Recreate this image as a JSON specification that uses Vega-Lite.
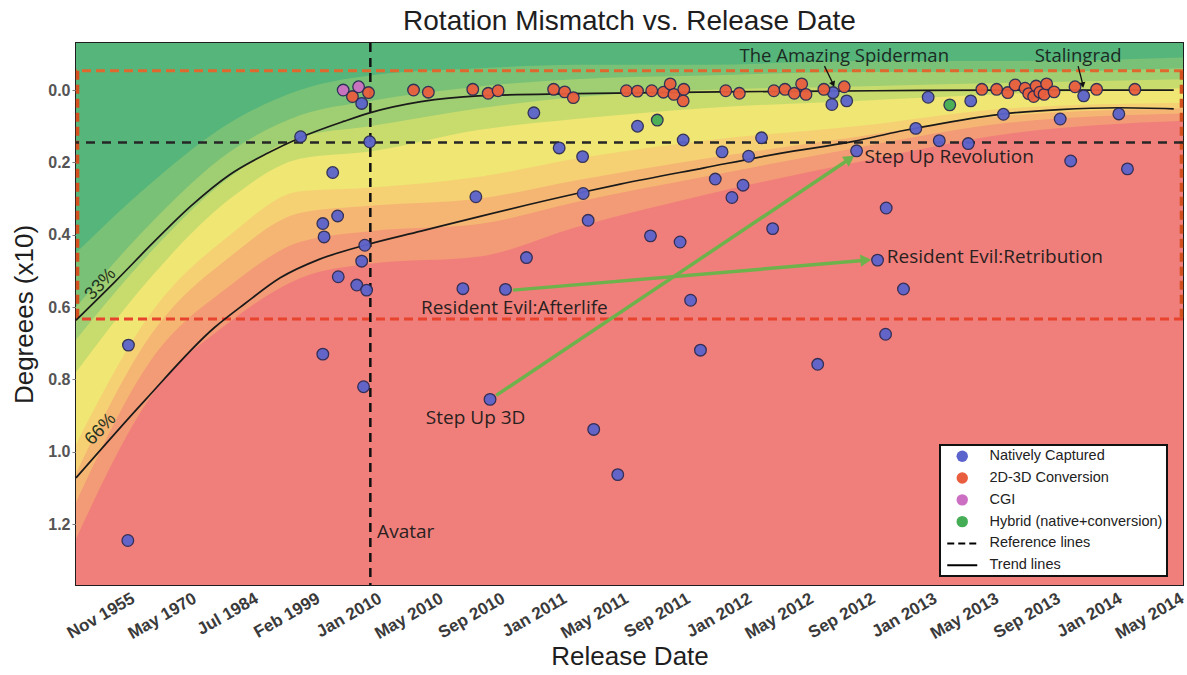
{
  "$schema": "https://vega.github.io/schema/vega-lite/v6.json",
  "width": 1107,
  "height": 542,
  "autosize": {"type": "none"},
  "padding": {"left": 76, "top": 43, "right": 4, "bottom": 90},
  "background": "white",
  "title": {"text": "Rotation Mismatch vs. Release Date", "font": "Liberation Sans", "fontSize": 28, "fontWeight": "normal", "color": "#1e1e1e", "offset": 6, "anchor": "middle", "frame": "group"},
  "config": {
    "view": {"stroke": "#1e1e1e", "strokeWidth": 2},
    "font": "Liberation Sans"
  },
  "datasets": {
    "bg": [
      {"x": -0.94, "b0": -0.13, "b1": 0.45, "b2": 0.6, "b3": 0.69, "b4": 0.78, "b5": 0.98, "b6": 1.06, "b7": 1.14, "b8": 1.24, "b9": 1.368},
      {"x": 0.26, "b0": -0.13, "b1": 0.26, "b2": 0.37, "b3": 0.45, "b4": 0.52, "b5": 0.62, "b6": 0.68, "b7": 0.75, "b8": 0.85, "b9": 1.368},
      {"x": 1.56, "b0": -0.13, "b1": 0.09, "b2": 0.17, "b3": 0.24, "b4": 0.30, "b5": 0.40, "b6": 0.46, "b7": 0.54, "b8": 0.64, "b9": 1.368},
      {"x": 2.69, "b0": -0.13, "b1": 0.0, "b2": 0.07, "b3": 0.13, "b4": 0.19, "b5": 0.28, "b6": 0.34, "b7": 0.42, "b8": 0.52, "b9": 1.368},
      {"x": 3.82, "b0": -0.13, "b1": -0.04, "b2": 0.03, "b3": 0.10, "b4": 0.17, "b5": 0.27, "b6": 0.32, "b7": 0.39, "b8": 0.48, "b9": 1.368},
      {"x": 5.6, "b0": -0.13, "b1": -0.06, "b2": -0.01, "b3": 0.05, "b4": 0.11, "b5": 0.24, "b6": 0.30, "b7": 0.37, "b8": 0.46, "b9": 1.368},
      {"x": 7.15, "b0": -0.13, "b1": -0.07, "b2": -0.03, "b3": 0.02, "b4": 0.08, "b5": 0.19, "b6": 0.25, "b7": 0.31, "b8": 0.38, "b9": 1.368},
      {"x": 9.24, "b0": -0.13, "b1": -0.07, "b2": -0.04, "b3": 0.0, "b4": 0.05, "b5": 0.14, "b6": 0.19, "b7": 0.24, "b8": 0.29, "b9": 1.368},
      {"x": 11.7, "b0": -0.13, "b1": -0.08, "b2": -0.05, "b3": -0.01, "b4": 0.03, "b5": 0.10, "b6": 0.13, "b7": 0.16, "b8": 0.20, "b9": 1.368},
      {"x": 14.2, "b0": -0.13, "b1": -0.08, "b2": -0.05, "b3": -0.02, "b4": 0.01, "b5": 0.05, "b6": 0.07, "b7": 0.09, "b8": 0.12, "b9": 1.368},
      {"x": 17, "b0": -0.13, "b1": -0.09, "b2": -0.06, "b3": -0.03, "b4": -0.005, "b5": 0.035, "b6": 0.05, "b7": 0.065, "b8": 0.085, "b9": 1.368}
    ],
    "trend": [
      {"curve": "33%", "x": -0.94, "y": 0.636}, {"curve": "33%", "x": -0.31, "y": 0.53}, {"curve": "33%", "x": 0.31, "y": 0.422},
      {"curve": "33%", "x": 0.92, "y": 0.321}, {"curve": "33%", "x": 1.55, "y": 0.234}, {"curve": "33%", "x": 2.17, "y": 0.174},
      {"curve": "33%", "x": 2.70, "y": 0.131}, {"curve": "33%", "x": 3.41, "y": 0.086}, {"curve": "33%", "x": 3.82, "y": 0.063},
      {"curve": "33%", "x": 4.65, "y": 0.032}, {"curve": "33%", "x": 5.58, "y": 0.016}, {"curve": "33%", "x": 7.13, "y": 0.01},
      {"curve": "33%", "x": 9.5, "y": 0.005}, {"curve": "33%", "x": 12, "y": 0.002}, {"curve": "33%", "x": 14.5, "y": 0.0},
      {"curve": "33%", "x": 16.85, "y": 0.0},
      {"curve": "66%", "x": -0.94, "y": 1.072}, {"curve": "66%", "x": 0.18, "y": 0.857}, {"curve": "66%", "x": 1.30, "y": 0.657},
      {"curve": "66%", "x": 1.8, "y": 0.59}, {"curve": "66%", "x": 2.37, "y": 0.519}, {"curve": "66%", "x": 3.0, "y": 0.468},
      {"curve": "66%", "x": 3.74, "y": 0.429}, {"curve": "66%", "x": 4.65, "y": 0.39}, {"curve": "66%", "x": 5.61, "y": 0.349},
      {"curve": "66%", "x": 7.23, "y": 0.284}, {"curve": "66%", "x": 7.88, "y": 0.26}, {"curve": "66%", "x": 9.24, "y": 0.215},
      {"curve": "66%", "x": 10.47, "y": 0.175}, {"curve": "66%", "x": 11.66, "y": 0.142}, {"curve": "66%", "x": 12.41, "y": 0.114},
      {"curve": "66%", "x": 12.95, "y": 0.097}, {"curve": "66%", "x": 14.09, "y": 0.066}, {"curve": "66%", "x": 15.0, "y": 0.054},
      {"curve": "66%", "x": 15.96, "y": 0.049}, {"curve": "66%", "x": 16.85, "y": 0.052}
    ],
    "films": [
      {"x": -0.09, "y": 0.705, "type": "Natively Captured"}, {"x": -0.10, "y": 1.245, "type": "Natively Captured"},
      {"x": 2.70, "y": 0.129, "type": "Natively Captured"}, {"x": 3.22, "y": 0.228, "type": "Natively Captured"},
      {"x": 3.30, "y": 0.348, "type": "Natively Captured"}, {"x": 3.06, "y": 0.369, "type": "Natively Captured"},
      {"x": 3.08, "y": 0.406, "type": "Natively Captured"}, {"x": 3.31, "y": 0.516, "type": "Natively Captured"},
      {"x": 3.61, "y": 0.539, "type": "Natively Captured"}, {"x": 3.77, "y": 0.553, "type": "Natively Captured"},
      {"x": 3.74, "y": 0.429, "type": "Natively Captured"}, {"x": 3.69, "y": 0.473, "type": "Natively Captured"},
      {"x": 3.69, "y": 0.037, "type": "Natively Captured"}, {"x": 3.82, "y": 0.143, "type": "Natively Captured"},
      {"x": 3.06, "y": 0.73, "type": "Natively Captured"}, {"x": 3.72, "y": 0.82, "type": "Natively Captured"},
      {"x": 5.33, "y": 0.549, "type": "Natively Captured"}, {"x": 6.02, "y": 0.551, "type": "Natively Captured"},
      {"x": 5.54, "y": 0.295, "type": "Natively Captured"}, {"x": 5.77, "y": 0.855, "type": "Natively Captured"},
      {"x": 6.36, "y": 0.463, "type": "Natively Captured"}, {"x": 6.48, "y": 0.063, "type": "Natively Captured"},
      {"x": 6.89, "y": 0.16, "type": "Natively Captured"}, {"x": 7.27, "y": 0.184, "type": "Natively Captured"},
      {"x": 7.28, "y": 0.286, "type": "Natively Captured"}, {"x": 7.36, "y": 0.36, "type": "Natively Captured"},
      {"x": 7.45, "y": 0.938, "type": "Natively Captured"}, {"x": 7.84, "y": 1.063, "type": "Natively Captured"},
      {"x": 8.16, "y": 0.10, "type": "Natively Captured"}, {"x": 8.90, "y": 0.138, "type": "Natively Captured"},
      {"x": 8.37, "y": 0.403, "type": "Natively Captured"}, {"x": 8.85, "y": 0.42, "type": "Natively Captured"},
      {"x": 9.02, "y": 0.581, "type": "Natively Captured"}, {"x": 9.18, "y": 0.719, "type": "Natively Captured"},
      {"x": 9.42, "y": 0.246, "type": "Natively Captured"}, {"x": 9.53, "y": 0.171, "type": "Natively Captured"},
      {"x": 9.69, "y": 0.297, "type": "Natively Captured"}, {"x": 9.87, "y": 0.263, "type": "Natively Captured"},
      {"x": 9.96, "y": 0.183, "type": "Natively Captured"}, {"x": 10.17, "y": 0.132, "type": "Natively Captured"},
      {"x": 10.35, "y": 0.383, "type": "Natively Captured"}, {"x": 11.08, "y": 0.758, "type": "Natively Captured"},
      {"x": 11.31, "y": 0.04, "type": "Natively Captured"}, {"x": 11.33, "y": 0.007, "type": "Natively Captured"},
      {"x": 11.55, "y": 0.03, "type": "Natively Captured"}, {"x": 11.71, "y": 0.168, "type": "Natively Captured"},
      {"x": 12.05, "y": 0.47, "type": "Natively Captured"}, {"x": 12.18, "y": 0.675, "type": "Natively Captured"},
      {"x": 12.19, "y": 0.326, "type": "Natively Captured"}, {"x": 12.47, "y": 0.55, "type": "Natively Captured"},
      {"x": 12.67, "y": 0.106, "type": "Natively Captured"}, {"x": 12.87, "y": 0.02, "type": "Natively Captured"},
      {"x": 13.05, "y": 0.14, "type": "Natively Captured"}, {"x": 13.52, "y": 0.148, "type": "Natively Captured"},
      {"x": 13.56, "y": 0.03, "type": "Natively Captured"}, {"x": 14.09, "y": 0.067, "type": "Natively Captured"},
      {"x": 15.01, "y": 0.08, "type": "Natively Captured"}, {"x": 15.18, "y": 0.196, "type": "Natively Captured"},
      {"x": 15.96, "y": 0.066, "type": "Natively Captured"}, {"x": 16.10, "y": 0.218, "type": "Natively Captured"},
      {"x": 3.39, "y": 0.0, "type": "CGI"}, {"x": 3.64, "y": -0.009, "type": "CGI"},
      {"x": 8.48, "y": 0.083, "type": "Hybrid (native+conversion)"}, {"x": 13.22, "y": 0.041, "type": "Hybrid (native+conversion)"},
      {"x": 3.54, "y": 0.018, "type": "2D-3D Conversion"}, {"x": 3.80, "y": 0.007, "type": "2D-3D Conversion"},
      {"x": 4.53, "y": 0.0, "type": "2D-3D Conversion"}, {"x": 4.77, "y": 0.006, "type": "2D-3D Conversion"},
      {"x": 5.49, "y": -0.002, "type": "2D-3D Conversion"}, {"x": 5.74, "y": 0.009, "type": "2D-3D Conversion"},
      {"x": 5.90, "y": 0.002, "type": "2D-3D Conversion"}, {"x": 6.80, "y": -0.002, "type": "2D-3D Conversion"},
      {"x": 6.98, "y": 0.005, "type": "2D-3D Conversion"}, {"x": 7.12, "y": 0.021, "type": "2D-3D Conversion"},
      {"x": 7.98, "y": 0.002, "type": "2D-3D Conversion"}, {"x": 8.16, "y": 0.003, "type": "2D-3D Conversion"},
      {"x": 8.39, "y": 0.002, "type": "2D-3D Conversion"}, {"x": 8.58, "y": 0.006, "type": "2D-3D Conversion"},
      {"x": 8.69, "y": -0.017, "type": "2D-3D Conversion"}, {"x": 8.75, "y": 0.012, "type": "2D-3D Conversion"},
      {"x": 8.91, "y": -0.002, "type": "2D-3D Conversion"}, {"x": 8.90, "y": 0.03, "type": "2D-3D Conversion"},
      {"x": 9.59, "y": 0.002, "type": "2D-3D Conversion"}, {"x": 9.81, "y": 0.009, "type": "2D-3D Conversion"},
      {"x": 10.37, "y": 0.002, "type": "2D-3D Conversion"}, {"x": 10.55, "y": -0.002, "type": "2D-3D Conversion"},
      {"x": 10.70, "y": 0.009, "type": "2D-3D Conversion"}, {"x": 10.82, "y": -0.017, "type": "2D-3D Conversion"},
      {"x": 10.89, "y": 0.012, "type": "2D-3D Conversion"}, {"x": 11.18, "y": -0.002, "type": "2D-3D Conversion"},
      {"x": 11.51, "y": -0.009, "type": "2D-3D Conversion"}, {"x": 13.74, "y": -0.002, "type": "2D-3D Conversion"},
      {"x": 13.98, "y": -0.002, "type": "2D-3D Conversion"}, {"x": 14.16, "y": 0.007, "type": "2D-3D Conversion"},
      {"x": 14.28, "y": -0.014, "type": "2D-3D Conversion"}, {"x": 14.44, "y": -0.005, "type": "2D-3D Conversion"},
      {"x": 14.50, "y": 0.01, "type": "2D-3D Conversion"}, {"x": 14.58, "y": 0.018, "type": "2D-3D Conversion"},
      {"x": 14.62, "y": -0.011, "type": "2D-3D Conversion"}, {"x": 14.68, "y": 0.006, "type": "2D-3D Conversion"},
      {"x": 14.75, "y": 0.012, "type": "2D-3D Conversion"}, {"x": 14.79, "y": -0.017, "type": "2D-3D Conversion"},
      {"x": 14.91, "y": 0.005, "type": "2D-3D Conversion"}, {"x": 15.25, "y": -0.009, "type": "2D-3D Conversion"},
      {"x": 15.60, "y": -0.002, "type": "2D-3D Conversion"}, {"x": 16.22, "y": -0.002, "type": "2D-3D Conversion"},
      {"x": 15.39, "y": 0.016, "type": "Natively Captured"}
    ],
    "greenArrows": [
      {"arrow": "re", "x": 6.14, "y": 0.553}, {"arrow": "re", "x": 11.86, "y": 0.4705},
      {"arrow": "su", "x": 5.87, "y": 0.844}, {"arrow": "su", "x": 11.6, "y": 0.19}
    ],
    "blackArrows": [
      {"arrow": "sp", "x": 11.19, "y": -0.066}, {"arrow": "sp", "x": 11.32, "y": -0.02},
      {"arrow": "st", "x": 15.30, "y": -0.066}, {"arrow": "st", "x": 15.37, "y": -0.02}
    ]
  },
  "layer": [
    {
      "data": {"name": "bg"},
      "mark": {"type": "area", "interpolate": "monotone", "color": "#f07f7b"},
      "encoding": {
        "x": {"field": "x", "type": "quantitative", "title": "Release Date",
          "scale": {"domain": [-0.94, 17], "nice": false, "zero": false},
          "axis": {"values": [0,1,2,3,4,5,6,7,8,9,10,11,12,13,14,15,16,17],
            "labelExpr": "['Nov 1955','May 1970','Jul 1984','Feb 1999','Jan 2010','May 2010','Sep 2010','Jan 2011','May 2011','Sep 2011','Jan 2012','May 2012','Sep 2012','Jan 2013','May 2013','Sep 2013','Jan 2014','May 2014'][datum.value]",
            "labelAngle": -30, "labelAlign": "right", "labelBaseline": "top", "labelFontSize": 17, "labelFontWeight": "bold",
            "labelColor": "#3a3a3a", "labelFont": "Liberation Sans", "labelPadding": 5, "labelOffset": -5, "labelOverlap": false, "labelFlush": false, "labelBound": false,
            "ticks": false, "domain": false, "grid": false,
            "titleFont": "Liberation Sans", "titleFontSize": 26, "titleFontWeight": "normal", "titleColor": "#1e1e1e", "titlePadding": 2}},
        "y": {"field": "b0", "type": "quantitative", "title": "Degreees (x10)", "stack": null,
          "scale": {"domain": [-0.13, 1.368], "reverse": true, "nice": false, "zero": false},
          "axis": {"values": [0, 0.2, 0.4, 0.6, 0.8, 1.0, 1.2], "format": ".1f",
            "labelFontSize": 16, "labelFontWeight": "bold", "labelColor": "#555555", "labelFont": "Liberation Sans", "labelPadding": 2,
            "tickSize": 4, "tickColor": "#777777", "domain": false, "grid": false,
            "titleFont": "Liberation Sans", "titleFontSize": 26, "titleFontWeight": "normal", "titleColor": "#1e1e1e", "titlePadding": 10}},
        "y2": {"field": "b9"}
      }
    },
    {"data": {"name": "bg"}, "mark": {"type": "area", "interpolate": "monotone", "color": "#f39a76"},
     "encoding": {"x": {"field": "x", "type": "quantitative"}, "y": {"field": "b0", "type": "quantitative", "stack": null}, "y2": {"field": "b8"}}},
    {"data": {"name": "bg"}, "mark": {"type": "area", "interpolate": "monotone", "color": "#f5b673"},
     "encoding": {"x": {"field": "x", "type": "quantitative"}, "y": {"field": "b0", "type": "quantitative", "stack": null}, "y2": {"field": "b7"}}},
    {"data": {"name": "bg"}, "mark": {"type": "area", "interpolate": "monotone", "color": "#f5d174"},
     "encoding": {"x": {"field": "x", "type": "quantitative"}, "y": {"field": "b0", "type": "quantitative", "stack": null}, "y2": {"field": "b6"}}},
    {"data": {"name": "bg"}, "mark": {"type": "area", "interpolate": "monotone", "color": "#efe673"},
     "encoding": {"x": {"field": "x", "type": "quantitative"}, "y": {"field": "b0", "type": "quantitative", "stack": null}, "y2": {"field": "b5"}}},
    {"data": {"name": "bg"}, "mark": {"type": "area", "interpolate": "monotone", "color": "#c8dc6e"},
     "encoding": {"x": {"field": "x", "type": "quantitative"}, "y": {"field": "b0", "type": "quantitative", "stack": null}, "y2": {"field": "b4"}}},
    {"data": {"name": "bg"}, "mark": {"type": "area", "interpolate": "monotone", "color": "#a0ce72"},
     "encoding": {"x": {"field": "x", "type": "quantitative"}, "y": {"field": "b0", "type": "quantitative", "stack": null}, "y2": {"field": "b3"}}},
    {"data": {"name": "bg"}, "mark": {"type": "area", "interpolate": "monotone", "color": "#78c177"},
     "encoding": {"x": {"field": "x", "type": "quantitative"}, "y": {"field": "b0", "type": "quantitative", "stack": null}, "y2": {"field": "b2"}}},
    {"data": {"name": "bg"}, "mark": {"type": "area", "interpolate": "monotone", "color": "#55b57b"},
     "encoding": {"x": {"field": "x", "type": "quantitative"}, "y": {"field": "b0", "type": "quantitative", "stack": null}, "y2": {"field": "b1"}}},
    {"data": {"values": [{"y": -0.053}]}, "mark": {"type": "rule", "color": "#e0682e", "strokeWidth": 3, "strokeDash": [9, 5]},
     "encoding": {"y": {"field": "y", "type": "quantitative"}}},
    {"data": {"values": [{"y": 0.633}]}, "mark": {"type": "rule", "color": "#e8432c", "strokeWidth": 3, "strokeDash": [9, 5]},
     "encoding": {"y": {"field": "y", "type": "quantitative"}}},
    {"data": {"values": [{"x": -0.915, "y": -0.053, "y2": 0.633}, {"x": 16.975, "y": -0.053, "y2": 0.633}]},
     "mark": {"type": "rule", "color": "#d4501f", "strokeWidth": 3.5, "strokeDash": [9, 5]},
     "encoding": {"x": {"field": "x", "type": "quantitative"}, "y": {"field": "y", "type": "quantitative"}, "y2": {"field": "y2"}}},
    {"data": {"values": [{"y": 0.145}]}, "mark": {"type": "rule", "color": "#262626", "strokeWidth": 2.5, "strokeDash": [9, 7]},
     "encoding": {"y": {"field": "y", "type": "quantitative"}}},
    {"data": {"values": [{"x": 3.83}]}, "mark": {"type": "rule", "color": "#111111", "strokeWidth": 2.5, "strokeDash": [9, 6]},
     "encoding": {"x": {"field": "x", "type": "quantitative"}}},
    {"data": {"name": "trend"}, "mark": {"type": "line", "color": "#1a1a1a", "strokeWidth": 1.7, "interpolate": "monotone"},
     "encoding": {"x": {"field": "x", "type": "quantitative"}, "y": {"field": "y", "type": "quantitative"}, "detail": {"field": "curve"}}},
    {"data": {"name": "greenArrows"}, "mark": {"type": "line", "color": "#6db24b", "strokeWidth": 3.5},
     "encoding": {"x": {"field": "x", "type": "quantitative"}, "y": {"field": "y", "type": "quantitative"}, "detail": {"field": "arrow"}}},
    {"data": {"values": [{"x": 11.86, "y": 0.4705}]}, "mark": {"type": "point", "shape": "triangle-right", "filled": true, "color": "#6db24b", "size": 150, "angle": -4.8, "opacity": 1},
     "encoding": {"x": {"field": "x", "type": "quantitative"}, "y": {"field": "y", "type": "quantitative"}}},
    {"data": {"values": [{"x": 11.6, "y": 0.19}]}, "mark": {"type": "point", "shape": "triangle-right", "filled": true, "color": "#6db24b", "size": 150, "angle": -33.7, "opacity": 1},
     "encoding": {"x": {"field": "x", "type": "quantitative"}, "y": {"field": "y", "type": "quantitative"}}},
    {"data": {"name": "blackArrows"}, "mark": {"type": "line", "color": "#111111", "strokeWidth": 1.3},
     "encoding": {"x": {"field": "x", "type": "quantitative"}, "y": {"field": "y", "type": "quantitative"}, "detail": {"field": "arrow"}}},
    {"data": {"values": [{"x": 11.33, "y": -0.016}]}, "mark": {"type": "point", "shape": "triangle-right", "filled": true, "color": "#111111", "size": 40, "angle": 67, "opacity": 1},
     "encoding": {"x": {"field": "x", "type": "quantitative"}, "y": {"field": "y", "type": "quantitative"}}},
    {"data": {"values": [{"x": 15.375, "y": -0.014}]}, "mark": {"type": "point", "shape": "triangle-right", "filled": true, "color": "#111111", "size": 40, "angle": 79, "opacity": 1},
     "encoding": {"x": {"field": "x", "type": "quantitative"}, "y": {"field": "y", "type": "quantitative"}}},
    {"data": {"name": "films"}, "mark": {"type": "point", "filled": true, "size": 135, "stroke": "#2b2b55", "strokeWidth": 1.3, "opacity": 0.95},
     "encoding": {
       "x": {"field": "x", "type": "quantitative"},
       "y": {"field": "y", "type": "quantitative"},
       "color": {"field": "type", "type": "nominal",
         "scale": {"domain": ["Natively Captured", "2D-3D Conversion", "CGI", "Hybrid (native+conversion)", "Reference lines", "Trend lines"],
                   "range": ["#5b63cc", "#e95e3e", "#cc6fc2", "#45ad55", "#000000", "#000000"]},
         "legend": {"orient": "none", "legendX": 864, "legendY": 402, "title": null,
           "fillColor": "white", "strokeColor": "#111111", "padding": 4, "symbolOffset": 11, "symbolSize": 130,
           "labelOffset": 20, "labelFontSize": 14.5, "labelFont": "Liberation Sans", "labelColor": "#222222", "labelLimit": 260, "rowPadding": 6.8,
           "encoding": {
             "legend": {"strokeWidth": {"value": 2}},
             "symbols": {
               "shape": {"value": {"expr": "datum.value === 'Reference lines' || datum.value === 'Trend lines' ? 'stroke' : 'circle'"}},
               "size": {"value": {"expr": "datum.value === 'Reference lines' || datum.value === 'Trend lines' ? 900 : 130"}},
               "strokeDash": {"value": {"expr": "datum.value === 'Reference lines' ? [7, 4] : [1, 0]"}},
               "stroke": {"value": {"expr": "datum.value === 'Reference lines' || datum.value === 'Trend lines' ? '#000000' : 'transparent'"}},
               "strokeWidth": {"value": {"expr": "datum.value === 'Reference lines' || datum.value === 'Trend lines' ? 2 : 0"}},
               "opacity": {"value": 1}
             }
           }}}
     }},
    {"data": {"values": [
        {"x": 11.84, "y": 0.186, "label": "Step Up Revolution"},
        {"x": 12.2, "y": 0.461, "label": "Resident Evil:Retribution"},
        {"x": 4.65, "y": 0.602, "label": "Resident Evil:Afterlife"},
        {"x": 4.73, "y": 0.906, "label": "Step Up 3D"},
        {"x": 3.94, "y": 1.221, "label": "Avatar"}]},
     "mark": {"type": "text", "align": "left", "baseline": "middle", "font": "Open Sans", "fontSize": 19, "color": "#2a1f1f"},
     "encoding": {"x": {"field": "x", "type": "quantitative"}, "y": {"field": "y", "type": "quantitative"}, "text": {"field": "label"}}},
    {"data": {"values": [
        {"x": 11.51, "y": -0.094, "label": "The Amazing Spiderman"},
        {"x": 15.3, "y": -0.094, "label": "Stalingrad"}]},
     "mark": {"type": "text", "align": "center", "baseline": "middle", "font": "Open Sans", "fontSize": 18.5, "color": "#1c2a22"},
     "encoding": {"x": {"field": "x", "type": "quantitative"}, "y": {"field": "y", "type": "quantitative"}, "text": {"field": "label"}}},
    {"data": {"values": [
        {"x": -0.54, "y": 0.537, "label": "33%"},
        {"x": -0.54, "y": 0.938, "label": "66%"}]},
     "mark": {"type": "text", "align": "center", "baseline": "middle", "font": "Liberation Sans", "fontSize": 18, "angle": -47, "color": "#1f3320"},
     "encoding": {"x": {"field": "x", "type": "quantitative"}, "y": {"field": "y", "type": "quantitative"}, "text": {"field": "label"}}}
  ]
}
